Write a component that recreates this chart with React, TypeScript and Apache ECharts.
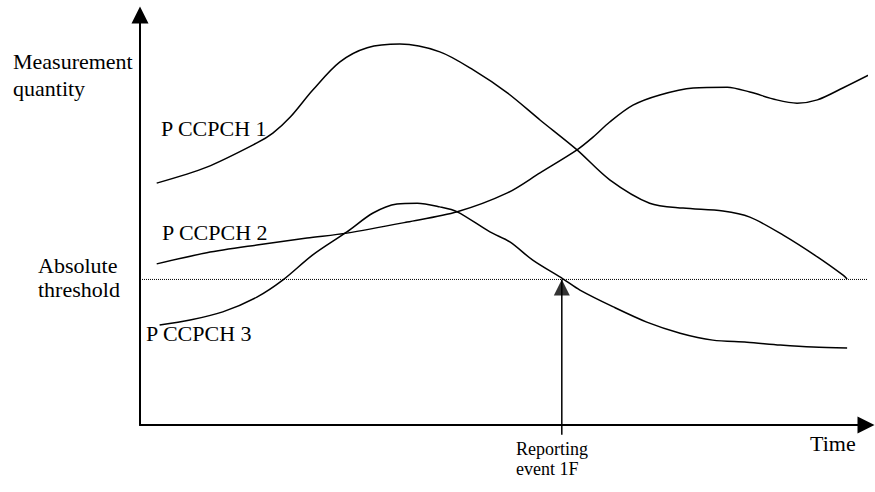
import React, { useEffect, useRef } from "react";
import * as echarts from "echarts";

// Abstract units: time 0..100, measurement quantity 0..100
const curve1: [number, number][] = [
  [2.3, 59.0], [9.2, 62.9], [16.1, 68.8], [18.3, 71.2], [20.7, 75.1], [23.8, 81.7],
  [27.5, 88.5], [31.3, 92.0], [35.8, 92.9], [41.3, 91.0], [45.9, 86.6], [50.6, 81.0],
  [55.1, 74.4], [60.2, 67.1], [64.7, 59.8], [70.2, 54.1], [74.8, 52.9], [80.3, 52.2],
  [84.0, 50.7], [88.6, 46.3], [93.3, 41.0], [96.8, 36.6], [97.4, 35.6],
];
const curve2: [number, number][] = [
  [2.3, 39.3], [9.2, 42.0], [16.1, 43.9], [23.0, 45.6], [28.5, 46.8], [36.8, 49.5],
  [43.7, 52.0], [50.6, 56.6], [55.1, 61.5], [60.2, 67.1], [62.4, 70.2], [64.7, 73.9],
  [67.9, 78.0], [71.6, 80.5], [76.2, 82.2], [80.9, 82.4], [84.0, 81.2], [87.7, 79.3],
  [90.5, 78.5], [93.3, 79.3], [96.8, 82.2], [101.2, 86.1],
];
const curve3: [number, number][] = [
  [2.7, 24.4], [6.9, 25.6], [11.4, 27.6], [16.1, 31.2], [19.7, 35.4], [23.8, 41.5],
  [28.5, 47.1], [32.1, 51.7], [35.4, 53.9], [38.2, 54.1], [41.3, 53.2], [43.7, 52.0],
  [48.2, 47.1], [51.0, 44.6], [54.1, 40.2], [58.3, 35.6], [60.6, 32.9], [65.2, 28.8],
  [69.8, 25.1], [74.4, 22.4], [78.9, 20.7], [83.6, 20.2], [88.2, 19.5], [92.7, 19.0],
  [97.4, 18.8],
];
const seriesNames = ["P CCPCH 1", "P CCPCH 2", "P CCPCH 3"];
const threshold = 35.5;
const thresholdSpan: [number, number] = [0, 101.3];
const eventTime = 58.1;
const eventArrowStart = -2.4;

const FONT = '"Liberation Serif", "Times New Roman", serif';

export default function App() {
  const ref = useRef<HTMLDivElement>(null);
  useEffect(() => {
    if (!ref.current) return;
    const chart = echarts.init(ref.current, undefined, { renderer: "svg" });
    const lineStyle = { color: "#000", width: 1.5 };
    const txt = (text: string, x: number, y: number, size = 22) => ({
      type: "text",
      x,
      y,
      silent: true,
      style: {
        text,
        fill: "#000",
        fontSize: size,
        fontFamily: FONT,
        verticalAlign: "middle",
        align: "left",
      },
    });
    chart.setOption({
      animation: false,
      backgroundColor: "#fff",
      grid: { left: 140, top: 15, width: 726, height: 410 },
      xAxis: {
        type: "value",
        min: 0,
        max: 100,
        splitLine: { show: false },
        axisTick: { show: false },
        axisLabel: { show: false },
        axisLine: {
          show: true,
          symbol: ["none", "triangle"],
          symbolSize: [17, 17],
          lineStyle: { color: "#000", width: 2 },
        },
      },
      yAxis: {
        type: "value",
        min: 0,
        max: 100,
        splitLine: { show: false },
        axisTick: { show: false },
        axisLabel: { show: false },
        axisLine: {
          show: true,
          symbol: ["none", "triangle"],
          symbolSize: [17, 17],
          lineStyle: { color: "#000", width: 2 },
        },
      },
      series: [
        { name: seriesNames[0], type: "line", data: curve1, smooth: 0.3, showSymbol: false, symbol: "none", clip: false, lineStyle, silent: true },
        { name: seriesNames[1], type: "line", data: curve2, smooth: 0.3, showSymbol: false, symbol: "none", clip: false, lineStyle, silent: true },
        { name: seriesNames[2], type: "line", data: curve3, smooth: 0.3, showSymbol: false, symbol: "none", clip: false, lineStyle, silent: true },
        {
          name: "threshold",
          type: "line",
          data: [[thresholdSpan[0], threshold], [thresholdSpan[1], threshold]],
          symbol: "none",
          clip: false,
          silent: true,
          lineStyle: { color: "#000", width: 1, type: [1, 1] },
        },
        {
          name: "event",
          type: "line",
          data: [[eventTime, eventArrowStart], [eventTime, threshold]],
          symbol: "none",
          clip: false,
          silent: true,
          lineStyle: { color: "#000", width: 1.5 },
        },
        {
          name: "eventHead",
          type: "scatter",
          data: [[eventTime, threshold]],
          symbol: "triangle",
          symbolSize: [16, 16],
          symbolOffset: [0, "50%"],
          clip: false,
          silent: true,
          itemStyle: { color: "#000" },
        },
      ],
      graphic: [
        txt("Measurement", 13, 61),
        txt("quantity", 13, 88),
        txt(seriesNames[0], 161, 128),
        txt(seriesNames[1], 162, 232),
        txt(seriesNames[2], 146, 333),
        txt("Absolute", 38, 265),
        txt("threshold", 38, 289),
        txt("Time", 810, 443),
        txt("Reporting", 516, 449, 18),
        txt("event 1F", 516, 469, 18),
      ],
    });
    return () => chart.dispose();
  }, []);
  return (
    <div
      ref={ref}
      style={{ position: "absolute", left: 0, top: 0, width: 875, height: 492 }}
    />
  );
}
